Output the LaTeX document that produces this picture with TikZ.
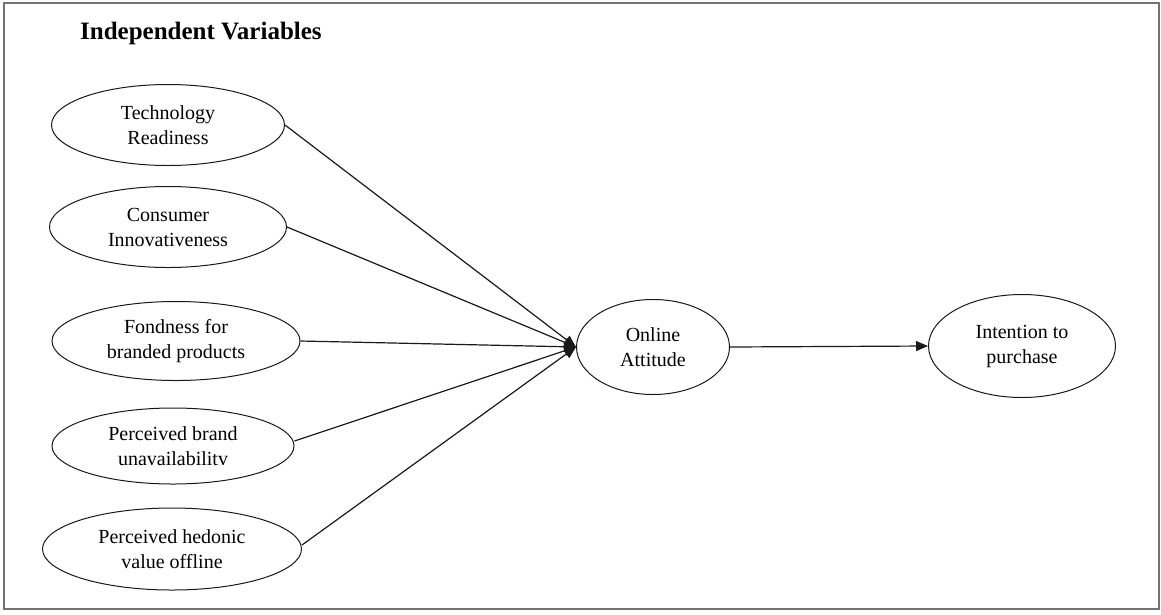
\documentclass[tikz,border=0pt]{standalone}
\usepackage{fontspec}
\setmainfont{Liberation Serif}
\usetikzlibrary{shapes.geometric,arrows.meta,calc}
\begin{document}
\begin{tikzpicture}[x=1pt,y=-1pt,
  var/.style={draw=black!90,line width=1pt,ellipse,inner sep=0pt,align=center,
    font=\fontsize{20}{25}\selectfont},
  link/.style={draw=black!90,line width=1.2pt,-{Triangle[length=12pt,width=10pt]}}]
\useasboundingbox (0,0) rectangle (1161,614);
% frame
\draw[line width=2pt,black!55] (4,3) rectangle (1159,609);
% heading
\node[anchor=west,inner sep=0pt,font=\bfseries\fontsize{25}{27}\selectfont] (head) at (80,33) {Independent Variables};
% independent variables
\node[var,minimum width=233pt,minimum height=81pt] (tr) at (168,125) {Technology\\Readiness};
\node[var,minimum width=237pt,minimum height=81pt] (ci) at (168,227) {Consumer\\Innovativeness};
\node[var,minimum width=248pt,minimum height=79pt] (fb) at (176,341) {Fondness for\\branded products};
\node[var,minimum width=242pt,minimum height=76pt] (pb) at (173,446) {Perceived brand\\unavailabilitv};
\node[var,minimum width=259pt,minimum height=82pt] (ph) at (172,549) {Perceived hedonic\\value offline};
% mediator and outcome
\node[var,minimum width=153pt,minimum height=95pt] (oa) at (653,347) {Online\\Attitude};
\node[var,minimum width=187pt,minimum height=103pt] (ip) at (1022,346) {Intention to\\purchase};
% paths
\draw[link] (tr.east) -- (oa.west);
\draw[link] (ci.east) -- (oa.west);
\draw[link] (fb.east) -- (oa.west);
\draw[link] ($(pb.east)+(0,-5)$) -- (oa.west);
\draw[link] ($(ph.east)+(0,-4)$) -- (oa.west);
\draw[link] (oa.east) -- (ip.west);
\end{tikzpicture}
\end{document}
